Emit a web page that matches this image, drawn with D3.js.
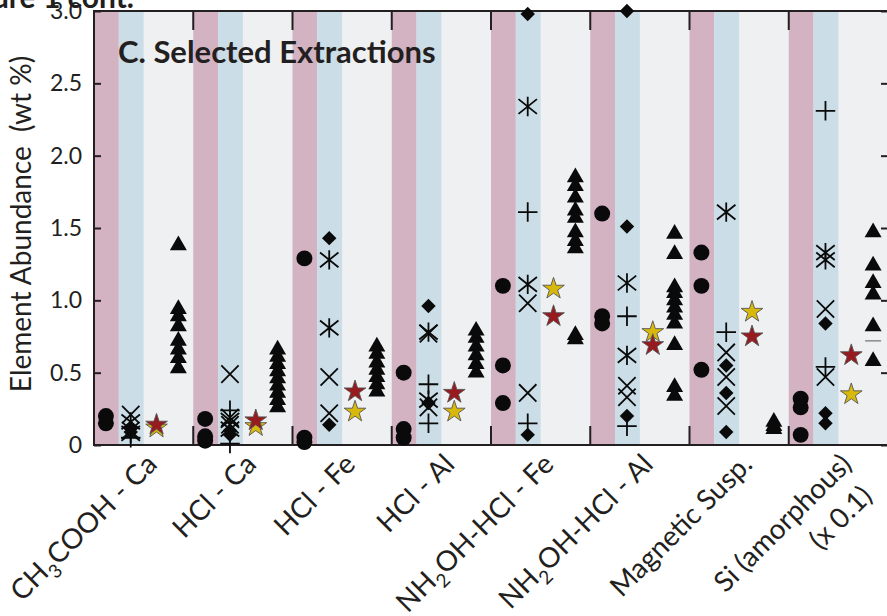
<!DOCTYPE html>
<html>
<head>
<meta charset="utf-8">
<script src="https://cdn.jsdelivr.net/npm/d3@7"></script>
<style>
  body { margin: 0; background: #fff; }
  svg { display: block; }
  text { font-family: Lato, "Open Sans", sans-serif; fill: #231f20; white-space: pre; }
</style>
</head>
<body>
<svg id="chart" width="887" height="616"></svg>
<script>
// categories ({n} = subscript, \n = second line)
const categories = ["CH{3}COOH - Ca", "HCl - Ca", "HCl - Fe", "HCl - Al",
  "NH{2}OH-HCl - Fe", "NH{2}OH-HCl - Al", "Magnetic Susp.", "Si (amorphous)\n(x 0.1)"];

const yTicks = [0, 0.5, 1.0, 1.5, 2.0, 2.5, 3.0];

// pink column
const circles = [[0.20, 0.15], [0.18, 0.06, 0.03], [1.29, 0.05, 0.02], [0.50, 0.11, 0.05],
  [1.10, 0.55, 0.29], [1.60, 0.89, 0.84], [1.33, 1.10, 0.52], [0.32, 0.26, 0.07]];

// blue column
const crosses = [[0.21, 0.10], [0.49, 0.19, 0.14], [0.47, 0.22], [0.77, 0.26],
  [0.98, 0.36], [0.41, 0.33], [0.64, 0.47, 0.27], [0.94, 0.47]];
const asterisks = [[0.16, 0.08], [0.17, 0.11], [1.28, 0.81], [0.78, 0.31],
  [2.34, 1.11], [1.12, 0.62], [1.61], [1.33, 1.28]];
const pluses = [[0.05], [0.24, 0.01], [], [0.42, 0.15],
  [1.61, 0.15], [0.89, 0.13], [0.78], [2.31, 0.54]];
const diamonds = [[0.12, 0.09], [0.10, 0.07], [1.43, 0.14], [0.96, 0.29],
  [2.98, 0.07], [3.00, 1.51, 0.20], [0.55, 0.36, 0.09], [0.84, 0.22, 0.15]];

// stars
const yellowStars = [0.12, 0.13, 0.23, 0.23, 1.08, 0.78, 0.92, 0.35];
const redStars = [0.14, 0.17, 0.37, 0.36, 0.89, 0.69, 0.75, 0.62];

// triangles
const triangles = [
  [1.38, 0.94, 0.89, 0.82, 0.72, 0.66, 0.60, 0.53],
  [0.66, 0.61, 0.56, 0.51, 0.46, 0.41, 0.36, 0.31, 0.26],
  [0.68, 0.63, 0.57, 0.52, 0.47, 0.42, 0.37],
  [0.79, 0.74, 0.68, 0.62, 0.56, 0.50],
  [1.85, 1.79, 1.71, 1.62, 1.57, 1.47, 1.41, 1.36, 0.76, 0.73],
  [1.46, 1.32, 1.09, 1.05, 1.00, 0.95, 0.90, 0.84, 0.69, 0.40, 0.34],
  [0.16, 0.13, 0.11],
  [1.47, 1.24, 1.12, 1.04, 0.82, 0.58]];
const dashes = [[], [], [], [], [], [], [], [0.72]];

const plotL = 94, plotR = 888, plotT = 11, plotB = 445;
const ink = "#231f20";

const svg = d3.select("#chart");

const x = d3.scaleBand().domain(categories).range([plotL, plotR]).padding(0);
const y = d3.scaleLinear().domain([0, 3]).range([plotB, plotT]);
const bw = x.bandwidth();

// where each column sits inside a category
const pos = {circle: 0.12, blue: 0.37, star: 0.63, tri: 0.85};

// background + coloured columns
svg.append("rect").attr("x", plotL).attr("y", plotT)
  .attr("width", plotR - plotL).attr("height", plotB - plotT).attr("fill", "#eff0f2");
svg.append("g").selectAll("rect").data(categories).join("rect")
  .attr("x", d => x(d)).attr("y", plotT).attr("width", bw * 0.25).attr("height", plotB - plotT)
  .attr("fill", "#d3b2c2");
svg.append("g").selectAll("rect").data(categories).join("rect")
  .attr("x", d => x(d) + bw * 0.25).attr("y", plotT).attr("width", bw * 0.25).attr("height", plotB - plotT)
  .attr("fill", "#cbdde6");

// frame
svg.append("rect").attr("x", plotL).attr("y", plotT)
  .attr("width", plotR - plotL).attr("height", plotB - plotT)
  .attr("fill", "none").attr("stroke", ink).attr("stroke-width", 2);

// y axes, ticks pointing in
const fmt = d => d === 0 ? "0" : d3.format(".1f")(d);
svg.append("g")
  .attr("transform", `translate(${plotL},0)`)
  .call(d3.axisLeft(y).tickValues(yTicks).tickFormat(fmt).tickSizeInner(-7).tickSizeOuter(0).tickPadding(12))
  .call(g => g.select(".domain").remove())
  .call(g => g.selectAll(".tick line").attr("stroke", ink).attr("stroke-width", 2))
  .call(g => g.selectAll(".tick text").attr("font-size", 23).attr("font-family", "Lato").attr("fill", ink));
svg.append("g")
  .attr("transform", `translate(${plotR},0)`)
  .call(d3.axisRight(y).tickValues(yTicks).tickFormat("").tickSizeInner(-7).tickSizeOuter(0))
  .call(g => g.select(".domain").remove())
  .call(g => g.selectAll(".tick line").attr("stroke", ink).attr("stroke-width", 2));

// category boundary ticks (top and bottom)
const inner = categories.slice(1);
svg.append("g").selectAll("line").data(inner).join("line")
  .attr("x1", d => x(d)).attr("x2", d => x(d)).attr("y1", plotB).attr("y2", plotB - 19)
  .attr("stroke", ink).attr("stroke-width", 2);
svg.append("g").selectAll("line").data(inner).join("line")
  .attr("x1", d => x(d)).attr("x2", d => x(d)).attr("y1", plotT).attr("y2", plotT + 19)
  .attr("stroke", ink).attr("stroke-width", 2);

// custom stroke symbols
const symX = {draw(ctx, size) { const r = Math.sqrt(size) / 2;
  ctx.moveTo(-r, -r); ctx.lineTo(r, r); ctx.moveTo(-r, r); ctx.lineTo(r, -r); }};
const symPlus = {draw(ctx, size) { const r = Math.sqrt(size) / 2;
  ctx.moveTo(-r, 0); ctx.lineTo(r, 0); ctx.moveTo(0, -r); ctx.lineTo(0, r); }};
const symAst = {draw(ctx, size) { const r = Math.sqrt(size) / 2;
  ctx.moveTo(-r, -r * 0.8); ctx.lineTo(r, r * 0.8); ctx.moveTo(-r, r * 0.8); ctx.lineTo(r, -r * 0.8);
  ctx.moveTo(0, -r * 1.05); ctx.lineTo(0, r * 1.05); }};

const flat = arr => categories.flatMap((c, i) => arr[i].map(v => ({c, v})));
const marks = svg.append("g");

function drawSymbols(data, col, type, size, style, rot = 0) {
  const sym = d3.symbol().type(type).size(size);
  const sel = marks.append("g").selectAll("path").data(data).join("path")
    .attr("d", sym)
    .attr("transform", d => `translate(${x(d.c) + bw * pos[col]},${y(d.v)}) rotate(${rot})`);
  Object.entries(style).forEach(([k, v]) => sel.attr(k, v));
}

const solid = {fill: "#0a0a0a"};
const line = {fill: "none", stroke: "#0a0a0a", "stroke-width": 1.8};

drawSymbols(flat(circles), "circle", d3.symbolCircle, 200, solid);
drawSymbols(flat(crosses), "blue", symX, 300, line);
drawSymbols(flat(asterisks), "blue", symAst, 340, line);
drawSymbols(flat(pluses), "blue", symPlus, 380, line);
drawSymbols(flat(diamonds), "blue", d3.symbolSquare, 105, solid, 45);
drawSymbols(categories.map((c, i) => ({c, v: yellowStars[i]})), "star", d3.symbolStar, 146,
  {fill: "#d9b80c", stroke: "#555", "stroke-width": 0.9});
drawSymbols(categories.map((c, i) => ({c, v: redStars[i]})), "star", d3.symbolStar, 146,
  {fill: "#961a1e", stroke: "#555", "stroke-width": 0.9});
drawSymbols(flat(triangles), "tri", d3.symbolTriangle, 125, solid);
marks.append("g").selectAll("line").data(flat(dashes)).join("line")
  .attr("x1", d => x(d.c) + bw * pos.tri - 8).attr("x2", d => x(d.c) + bw * pos.tri + 8)
  .attr("y1", d => y(d.v)).attr("y2", d => y(d.v))
  .attr("stroke", "#8a8a8a").attr("stroke-width", 1.5);

// category labels, rotated
const labels = svg.append("g").selectAll("text").data(categories).join("text")
  .attr("text-anchor", "end").attr("font-size", 28)
  .attr("transform", d => `translate(${x(d) + bw * 0.65},466) rotate(-45)`);
labels.each(function (d) {
  const t = d3.select(this);
  d.split("\n").forEach((ln, li) => {
    const parts = ln.split(/\{(\d)\}/);
    parts.forEach((p, pi) => {
      const ts = t.append("tspan").text(p);
      if (pi === 0) ts.attr("x", li ? -8 : 0).attr("y", li * 37);
      if (pi % 2 === 1) ts.attr("font-size", 19).attr("dy", 8);
      else if (pi > 0) ts.attr("dy", -8);
    });
  });
});

// titles
svg.append("text").attr("x", 118).attr("y", 63)
  .attr("font-size", 31).attr("font-weight", 700).text("C. Selected Extractions");
svg.append("text").attr("x", 134).attr("y", 8).attr("text-anchor", "end")
  .attr("font-size", 30).attr("font-weight", 700).text("Figure 1 cont.");
svg.append("text")
  .attr("transform", "translate(31,224) rotate(-90)")
  .attr("text-anchor", "middle").attr("font-size", 28)
  .text("Element Abundance  (wt %)");
</script>
</body>
</html>
